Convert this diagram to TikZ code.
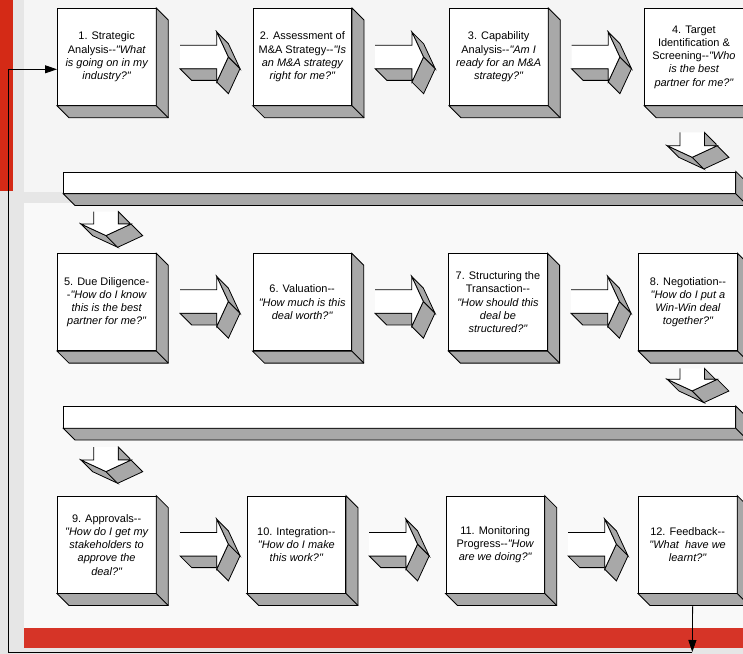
\documentclass[tikz,border=0pt]{standalone}
\usepackage{fontspec}
\setmainfont{Liberation Sans}[Ligatures=TeXOff]
\usetikzlibrary{arrows.meta,calc}
\definecolor{redA}{HTML}{D42A16}
\definecolor{redB}{HTML}{D63427}
\definecolor{bgA}{HTML}{F5F5F5}
\definecolor{bgB}{HTML}{F9F9F9}
\definecolor{stripc}{HTML}{E6E6E6}
\definecolor{facec}{HTML}{A8A8A8}
\newcommand\qi[1]{{\itshape #1}}
\newcommand\boxdepth[2]{%
  \filldraw[sideface] (#1.north east) -- ($(#1.north east)+(#2,#2)$) -- ($(#1.south east)+(#2,#2)$) -- ($(#1.south west)+(#2,#2)$) -- (#1.south west) -- (#1.south east) -- cycle;
  \draw[edge] (#1.south east) -- ($(#1.south east)+(#2,#2)$);
}
\tikzset{
  edge/.style={draw=black, line width=0.8bp, line join=miter},
  sideface/.style={fill=facec, draw=black, line width=0.8bp, line join=miter},
  bx/.style={draw=black, fill=white, line width=0.8bp, minimum width=98.5bp, minimum height=97bp, inner sep=1bp, align=center, font=\fontsize{11}{13.3}\selectfont, anchor=north west},
  barbox/.style={draw=black, fill=white, line width=0.8bp, minimum width=671.7bp, minimum height=21.5bp, inner sep=0pt, anchor=north west},
  conn/.style={draw=black, line width=0.8bp},
  loopArrow/.style={-{Triangle[length=12bp,width=8bp]}},
  pics/rarr/.style={code={
    \filldraw[sideface] (0,11.7) -- (11.7,23.4) -- (36.7,23.4) -- (36.7,11.7) -- cycle;
    \filldraw[sideface] (36.7,-25) -- (48.4,-13.3) -- (60,11.7) -- (48.3,0) -- cycle;
    \filldraw[sideface] (48.3,0) -- (60,11.7) -- (48.4,36.7) -- (36.7,25) -- cycle;
    \fill[white] (0,-11.7) -- (36.7,-11.7) -- (36.7,-25) -- (48.3,0) -- (36.7,25) -- (36.7,11.7) -- (0,11.7) -- cycle;
    \draw[edge] (0,-11.7) -- (36.7,-11.7) -- (36.7,-25) -- (48.3,0) -- (36.7,25) -- (36.7,11.7) -- (0,11.7);
  }},
  pics/darr/.style={code={
    \filldraw[sideface] (12.2,-#1) -- (23.9,-#1+11.7) -- (23.9,0) -- (12.2,0) -- cycle;
    \filldraw[sideface] (-25,0) -- (0,11.6) -- (11.7,23.3) -- (-13.3,11.7) -- cycle;
    \filldraw[sideface] (0,11.6) -- (25,0) -- (36.7,11.7) -- (11.7,23.3) -- cycle;
    \fill[white] (-12.2,-#1) -- (-12.2,0) -- (-25,0) -- (0,11.6) -- (25,0) -- (12.2,0) -- (12.2,-#1) -- cycle;
    \draw[edge] (-12.2,-#1) -- (-12.2,0) -- (-25,0) -- (0,11.6) -- (25,0) -- (12.2,0) -- (12.2,-#1);
  }}
}
\begin{document}
\begin{tikzpicture}[x=1bp,y=-1bp]
\useasboundingbox (0,0) rectangle (743,654);
\clip (0,0) rectangle (743,654);
% background
\fill[bgB] (0,0) rectangle (743,654);
\fill[bgA] (24,0) rectangle (743,191.5);
\fill[stripc] (0,0) rectangle (24,654);
\fill[stripc] (24,191.5) rectangle (743,203);
\fill[redA] (0,0) rectangle (12.5,191);
\fill[redB] (24,628) rectangle (743,648.3);
\fill[stripc] (24,648.3) rectangle (743,654);

% row 1
\node[bx] (b1) at (57,8) {1. Strategic\\Analysis--\qi{"What}\\\qi{is going on in my}\\\qi{industry?"}};
\node[bx] (b2) at (252.7,8) {2. Assessment of\\M\&A Strategy--\qi{"Is}\\\qi{an M\&A strategy}\\\qi{right for me?"}};
\node[bx] (b3) at (449,8) {3. Capability\\Analysis--\qi{"Am I}\\\qi{ready for an M\&A}\\\qi{strategy?"}};
\node[bx] (b4) at (644.3,8) {4. Target\\Identification \&\\Screening--\qi{"Who}\\\qi{is the best}\\\qi{partner for me?"}};
\foreach \n in {b1,b2,b3,b4} {\boxdepth{\n}{12}}
\pic at (180,57) {rarr};
\pic at (375.2,57) {rarr};
\pic at (571.5,57) {rarr};
\pic at (692.2,145.7) {darr=13.3};

% bar 1
\node[barbox] (bar1) at (63.3,171.5) {};
\boxdepth{bar1}{11.7}
\pic at (106,224) {darr=12.5};

% row 2
\node[bx] (b5) at (57,253.3) {5. Due Diligence-\\-\qi{"How do I know}\\\qi{this is the best}\\\qi{partner for me?"}};
\node[bx] (b6) at (252.5,253.3) {6. Valuation--\\\qi{"How much is this}\\\qi{deal worth?"}};
\node[bx] (b7) at (448.3,253.3) {7. Structuring the\\Transaction--\\\qi{"How should this}\\\qi{deal be}\\\qi{structured?"}};
\node[bx] (b8) at (638.3,253.3) {8. Negotiation--\\\qi{"How do I put a}\\\qi{Win-Win deal}\\\qi{together?"}};
\foreach \n in {b5,b6,b7,b8} {\boxdepth{\n}{12}}
\pic at (180,301.5) {rarr};
\pic at (375,301.5) {rarr};
\pic at (571,301.5) {rarr};
\pic at (692.2,379.3) {darr=11};

% bar 2
\node[barbox] (bar2) at (63.3,406) {};
\boxdepth{bar2}{11.7}
\pic at (106,460) {darr=13};

% row 3
\node[bx] (b9) at (57,495.7) {9. Approvals--\\\qi{"How do I get my}\\\qi{stakeholders to}\\\qi{approve the}\\\qi{deal?"}};
\node[bx] (b10) at (246.7,495.7) {10. Integration--\\\qi{"How do I make}\\\qi{this work?"}};
\node[bx] (b11) at (445.5,495.7) {11. Monitoring\\Progress--\qi{"How}\\\qi{are we doing?"}};
\node[bx] (b12) at (638,495.7) {12. Feedback--\\\qi{"What\ \ have we}\\\qi{learnt?"}};
\foreach \n in {b9,b10,b11,b12} {\boxdepth{\n}{12}}
\pic at (180,544.2) {rarr};
\pic at (369.2,544.2) {rarr};
\pic at (568,544.2) {rarr};

% feedback loop
\coordinate (b12out) at ($(b12.south)+(5,12)$);
\coordinate (lpB) at (692.3,652);
\coordinate (lpL) at (8,652);
\coordinate (lpT) at (8,69.3);
\draw[conn, loopArrow] (b12out) -- (lpB);
\draw[conn, loopArrow] (lpB) -- (lpL) -- (lpT) -- (lpT -| b1.west);
\end{tikzpicture}
\end{document}
